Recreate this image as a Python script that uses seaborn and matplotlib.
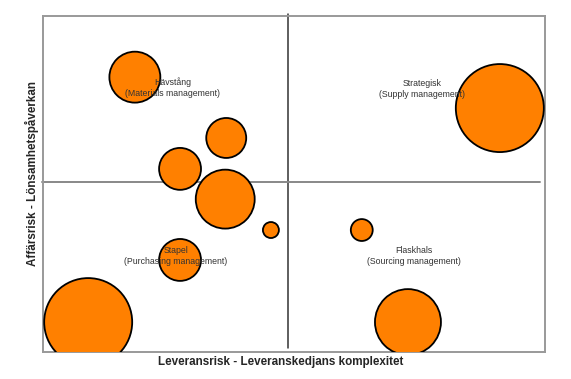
import pandas as pd
import numpy as np
import seaborn as sns
import matplotlib.pyplot as plt

# Kraljic-matris: leveransrisk (x) mot affärsrisk (y), bubbelstorlek = inköpsvolym
leveransrisk = [1.83, 3.65, 2.73, 3.63, 4.54, 2.73, 0.90, 6.35, 7.27, 9.10]
affarsrisk = [8.18, 6.37, 5.45, 4.55, 3.63, 2.74, 0.89, 3.63, 0.89, 7.26]
volym = [65, 40, 44, 87, 6.4, 44, 194, 12, 109, 194]

kvadranter = ["Hävstång\n(Materials management)", "Strategisk\n(Supply management)",
              "Stapel\n(Purchasing management)", "Flaskhals\n(Sourcing management)"]
kvadrant_x = [2.58, 7.55, 2.65, 7.39]
kvadrant_y = [7.86, 7.84, 2.85, 2.85]

mitt_x = 4.88
mitt_y = 5.06

df = pd.DataFrame({"x": leveransrisk, "y": affarsrisk, "volym": volym})

sns.set_style("white")
plt.rcParams['font.family'] = ['Liberation Sans', 'DejaVu Sans']

fig = plt.figure(figsize=(5.71, 3.79), dpi=100)
ax = fig.add_axes([43 / 571, 27 / 379, 502 / 571, 336 / 379])

k = 20.7  # volym -> punktarea
sns.scatterplot(data=df, x="x", y="y", size="volym",
                sizes=(min(volym) * k, max(volym) * k),
                size_norm=(min(volym), max(volym)),
                color="#ff8000", edgecolor="black", linewidth=1.3,
                alpha=1, legend=False, ax=ax, zorder=3)

ax.set_xlim(0, 10)
ax.set_ylim(0, 10)
ax.set_xticks([])
ax.set_yticks([])

# kvadrantlinjer
ax.plot([mitt_x, mitt_x], [0.12, 10.06], color="#333333", lw=1.1,
        clip_on=False, zorder=2)
ax.plot([-0.02, 9.90], [mitt_y, mitt_y], color="#888888", lw=1.4,
        clip_on=False, zorder=2)

for txt, tx, ty in zip(kvadranter, kvadrant_x, kvadrant_y):
    ax.text(tx, ty, txt, ha="center", va="center", fontsize=6.3,
            color="#333333", linespacing=1.3, zorder=4)

for sp in ax.spines.values():
    sp.set_color("#999999")
    sp.set_linewidth(1.4)

ax.set_xlabel("Leveransrisk - Leveranskedjans komplexitet",
              fontsize=8.4, fontweight="bold")
ax.xaxis.set_label_coords(0.474, -0.012)
ax.xaxis.label.set_va("top")
ax.set_ylabel("Affärsrisk - Lönsamhetspåverkan",
              fontsize=8.4, fontweight="bold")
ax.yaxis.set_label_coords(-0.008, 0.53)

fig.savefig("out.png", dpi=100)
